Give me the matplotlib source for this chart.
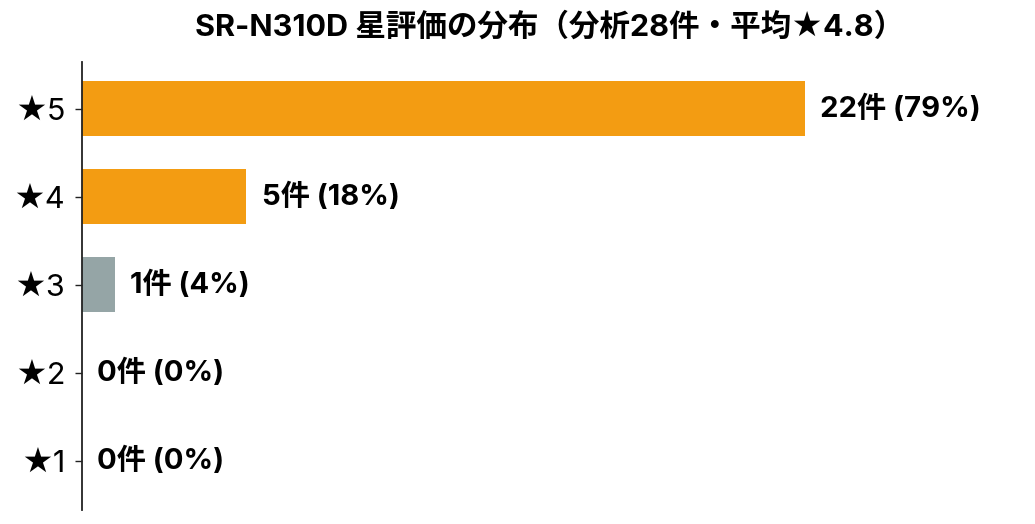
import matplotlib

matplotlib.use("Agg")
import matplotlib.pyplot as plt

plt.rcParams["font.family"] = ["Noto Sans CJK JP", "DejaVu Sans"]
mixed = ["Inter", "Noto Sans CJK JP", "DejaVu Sans"]

# star ratings, top to bottom
ratings = ["★5", "★4", "★3", "★2", "★1"]
counts = [22, 5, 1, 0, 0]
bar_colours = ["#F39C12", "#F39C12", "#95A5A6", "#95A5A6", "#95A5A6"]
total = 28
title = "SR-N310D 星評価の分布（分析28件・平均★4.8）"

fig = plt.figure(figsize=(10.35, 5.24), dpi=100)
ax = fig.add_axes([82 / 1035, 1 - 510 / 524, (1002 - 82) / 1035, (510 - 62) / 524])

ypos = list(range(len(ratings)))[::-1]
ax.barh(ypos, counts, height=0.62, color=bar_colours)

for y, c in zip(ypos, counts):
    pct = round(c / total * 100)
    ax.annotate(
        f"{c}件 ({pct}%)",
        xy=(c, y),
        xytext=(11, 0),
        textcoords="offset points",
        va="center",
        ha="left",
        fontsize=21,
        fontweight="bold",
        family=mixed,
    )

ax.set_xlim(0, 28)
ax.set_ylim(-0.56, 4.53)
ax.set_yticks(ypos)
ax.set_yticklabels(ratings, fontsize=22, family=mixed)
ax.set_xticks([])
for side in ["top", "right", "bottom"]:
    ax.spines[side].set_visible(False)
ax.spines["left"].set_color("#222222")
ax.spines["left"].set_linewidth(1.3)
ax.tick_params(axis="y", length=5, width=1, color="#222222", pad=7)

fig.suptitle(title, x=550 / 1035, y=1 - 27 / 524, va="center", fontsize=22,
             fontweight="bold", family=mixed)

fig.savefig("out.png", dpi=100)
